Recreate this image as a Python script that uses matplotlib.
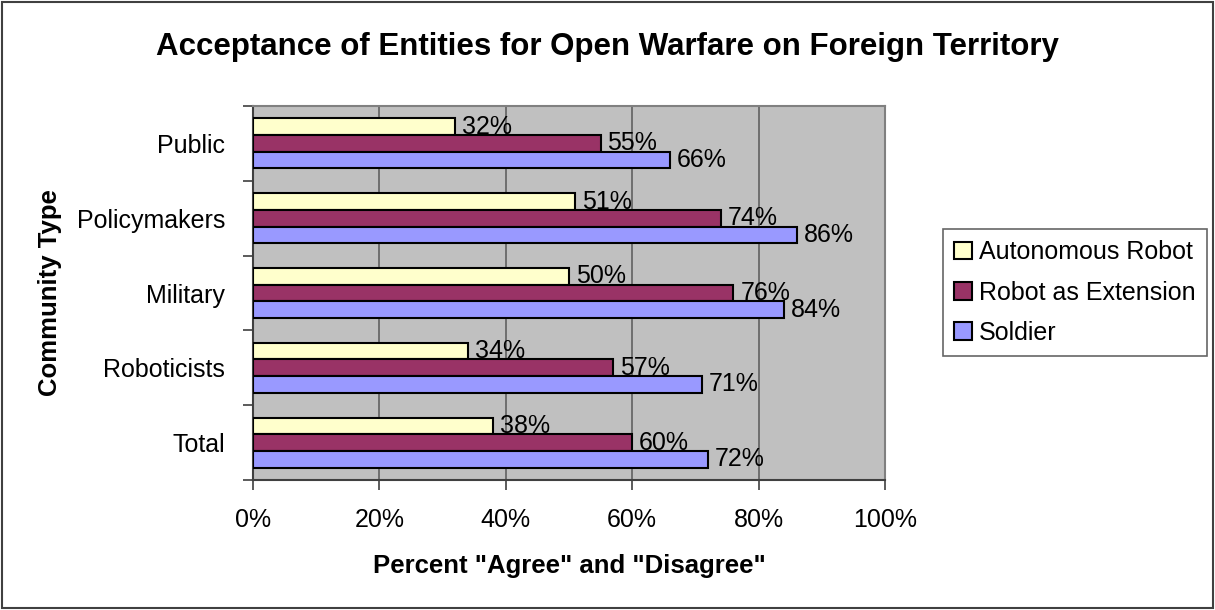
import numpy as np
import matplotlib
matplotlib.use("Agg")
import matplotlib.pyplot as plt
from matplotlib.patches import Rectangle

# --- Data ---
categories = ["Public", "Policymakers", "Military", "Roboticists", "Total"]
series_names = ["Autonomous Robot", "Robot as Extension", "Soldier"]
autonomous = [32, 51, 50, 34, 38]
extension = [55, 74, 76, 57, 60]
soldier = [66, 86, 84, 71, 72]
x_ticks = [0, 20, 40, 60, 80, 100]
x_tick_labels = ["0%", "20%", "40%", "60%", "80%", "100%"]

colors = ["#FFFFCC", "#993366", "#9999FF"]

plt.rcParams["font.family"] = ["Liberation Sans", "DejaVu Sans"]

fig = plt.figure(figsize=(12.15, 6.1), dpi=100)
ax = fig.add_axes([0.2082, 0.2131, 0.5202, 0.6131])

# figure border
fig.patches.append(Rectangle((0.002, 0.003), 0.996, 0.994, transform=fig.transFigure,
                             fill=False, edgecolor="#404040", linewidth=1.5))

y = np.arange(len(categories))
bar_h = 0.223
series = [autonomous, extension, soldier]
for i, (vals, name, col) in enumerate(zip(series, series_names, colors)):
    pos = y + (i - 1) * bar_h
    ax.barh(pos, vals, height=bar_h, color=col, edgecolor="black", linewidth=1.5,
            label=name, zorder=3)
    for p, v in zip(pos, vals):
        ax.annotate(f"{v}%", (v, p), xytext=(5, 0), textcoords="offset points",
                    va="center", ha="left", fontsize=18, zorder=4)

ax.set_xlim(0, 100)
ax.set_ylim(len(categories) - 0.5, -0.5)
ax.set_facecolor("#C0C0C0")
ax.set_xticks(x_ticks)
ax.set_xticklabels(x_tick_labels, fontsize=18)
ax.xaxis.grid(True, color="#606060", linewidth=1.2, zorder=1)
ax.set_axisbelow(True)

# category labels at centres, ticks at boundaries
ax.set_yticks(y)
ax.set_yticklabels(categories, fontsize=18)
ax.tick_params(axis="y", length=0, pad=20)
ax.set_yticks(np.arange(len(categories) + 1) - 0.5, minor=True)
ax.tick_params(axis="y", which="minor", length=7, width=1.2, color="#404040")
ax.tick_params(axis="x", length=7, width=1.2, color="#404040", pad=13)

for s in ["top", "right"]:
    ax.spines[s].set_color("#808080")
    ax.spines[s].set_linewidth(1.5)
for s in ["left", "bottom"]:
    ax.spines[s].set_color("#404040")
    ax.spines[s].set_linewidth(1.5)

ax.set_xlabel('Percent "Agree" and "Disagree"', fontsize=18.5, fontweight="bold", labelpad=16)
ax.set_ylabel("Community Type", fontsize=18.5, fontweight="bold", labelpad=11)

fig.suptitle("Acceptance of Entities for Open Warfare on Foreign Territory",
             fontsize=22.5, fontweight="bold", x=0.5, y=0.948)

leg = ax.legend(loc="upper left", bbox_to_anchor=(943 / 1215, 1 - 229 / 610),
                bbox_transform=fig.transFigure, fontsize=18, frameon=True, fancybox=False,
                handlelength=0.7, handleheight=0.7, handletextpad=0.3,
                borderpad=0.45, labelspacing=0.65, borderaxespad=0)
leg.get_frame().set_edgecolor("#404040")
leg.get_frame().set_linewidth(1.2)

fig.savefig("out.png", dpi=100)
